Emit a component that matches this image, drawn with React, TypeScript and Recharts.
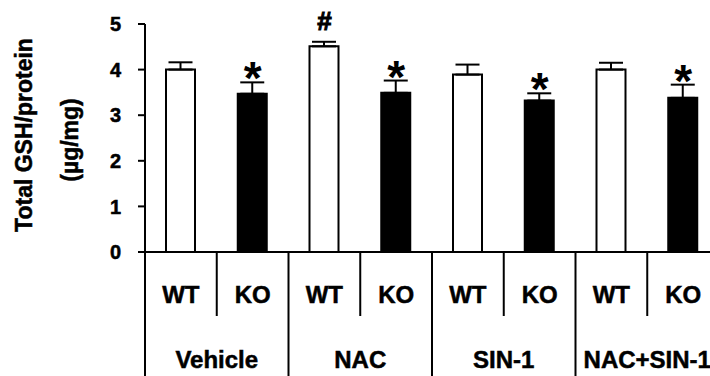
import { ComposedChart, Bar, Cell, ErrorBar, Scatter, XAxis, YAxis } from "recharts";

const groups = ["Vehicle", "NAC", "SIN-1", "NAC+SIN-1"];
const wtMean = [4.0, 4.51, 3.89, 4.0];
const koMean = [3.47, 3.49, 3.32, 3.38];
const wtSem = [0.16, 0.1, 0.22, 0.15];
const koSem = [0.25, 0.27, 0.16, 0.29];
const wtMark = ["", "#", "", ""];
const koMark = ["*", "*", "*", "*"];
const yTicks = [0, 1, 2, 3, 4, 5];

const rows = groups.flatMap((g, i) => [
  { id: g + "-WT", group: g, geno: "WT", value: wtMean[i], err: [0, wtSem[i]], top: wtMean[i] + wtSem[i], mark: wtMark[i] },
  { id: g + "-KO", group: g, geno: "KO", value: koMean[i], err: [0, koSem[i]], top: koMean[i] + koSem[i], mark: koMark[i] },
]);

const W = 720;
const H = 376;
const M = { top: 24, right: 1, bottom: 0, left: 0 };
const Y_W = 145;
const X_H = 124;
const half = (W - M.left - M.right - Y_W) / rows.length / 2;
const FONT = '"Liberation Sans", Arial, sans-serif';
// the scanned original looks a touch heavier than a clean bold face
const heavy = { stroke: "#000", strokeWidth: 0.5 };

function CatTick(props: any) {
  const { x, y, payload } = props;
  const i = payload.index;
  const r = rows[i];
  const isWT = r.geno === "WT";
  return (
    <g>
      <text x={x} y={y + 51} textAnchor="middle" fontSize={24} fontWeight="bold" fontFamily={FONT} fill="#000" {...heavy}>
        {r.geno}
      </text>
      {i === 0 && <line x1={x - half} x2={x - half} y1={y} y2={H} stroke="#000" strokeWidth={2} />}
      <line x1={x + half} x2={x + half} y1={y} y2={isWT ? y + 64 : H} stroke="#000" strokeWidth={2} />
      {isWT && (
        <text x={x + half} y={y + 116} textAnchor="middle" fontSize={24} fontWeight="bold" fontFamily={FONT} fill="#000" {...heavy}>
          {r.group}
        </text>
      )}
    </g>
  );
}

function Mark(props: any) {
  const { cx, cy, payload } = props;
  if (!payload || !payload.mark) return <g />;
  if (payload.mark === "*") {
    return (
      <text x={cx} y={cy + 12} textAnchor="middle" fontSize={46} fontWeight="bold" fontFamily={FONT} fill="#000">
        *
      </text>
    );
  }
  return (
    <text x={cx} y={cy - 12} textAnchor="middle" fontSize={26} fontWeight="bold" fontFamily={FONT} fill="#000" stroke="#000" strokeWidth={1}>
      {payload.mark}
    </text>
  );
}

function YLabel(props: any) {
  const vb = props.viewBox || { x: 0, y: M.top, width: Y_W, height: H - M.top - X_H };
  const cy = vb.y + vb.height / 2;
  const style = { fontSize: 23, fontWeight: "bold" as const, fontFamily: FONT };
  return (
    <g>
      <text x={32} y={cy - 3} transform={`rotate(-90 32 ${cy - 3})`} textAnchor="middle" fill="#000" style={style} {...heavy}>
        Total GSH/protein
      </text>
      <text x={77.5} y={cy + 2} transform={`rotate(-90 77.5 ${cy + 2})`} textAnchor="middle" fill="#000" style={style} {...heavy}>
        (µg/mg)
      </text>
    </g>
  );
}

export default function App() {
  return (
    <div style={{ width: 710, height: 376, overflow: "hidden", background: "#fff" }}>
      <style>{"body{margin:0}"}</style>
      <ComposedChart width={W} height={H} data={rows} margin={M}>
        <XAxis
          dataKey="id"
          interval={0}
          height={X_H}
          tickLine={false}
          tickSize={0}
          tickMargin={0}
          axisLine={{ stroke: "#000", strokeWidth: 2 }}
          tick={<CatTick />}
        />
        <YAxis
          width={Y_W}
          domain={[0, 5]}
          ticks={yTicks}
          tickSize={7}
          tickMargin={17}
          axisLine={{ stroke: "#000", strokeWidth: 2 }}
          tickLine={{ stroke: "#000", strokeWidth: 2 }}
          tick={{ fill: "#000", fontSize: 20, fontWeight: "bold", fontFamily: FONT, stroke: "#000", strokeWidth: 0.5 }}
          label={{ content: (p: any) => <YLabel {...p} /> }}
        />
        <Bar dataKey="value" barSize={29} stroke="#000" strokeWidth={2} isAnimationActive={false}>
          {rows.map((r) => (
            <Cell key={r.id} fill={r.geno === "WT" ? "#fff" : "#000"} />
          ))}
          <ErrorBar dataKey="err" direction="y" width={12} stroke="#000" strokeWidth={2} />
        </Bar>
        <Scatter dataKey="top" shape={<Mark />} isAnimationActive={false} />
      </ComposedChart>
    </div>
  );
}
